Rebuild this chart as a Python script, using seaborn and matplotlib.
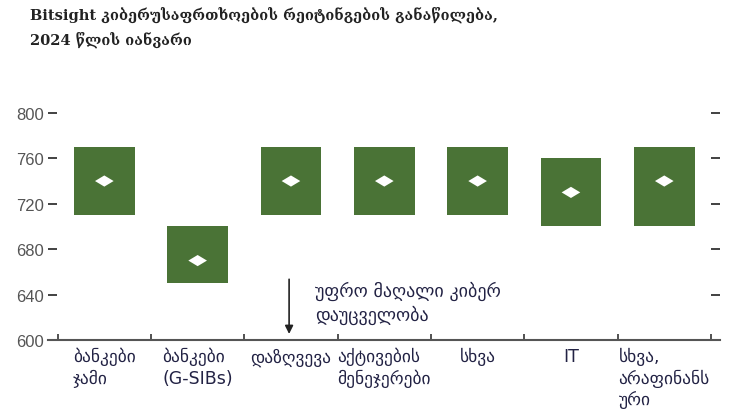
import numpy as np
import matplotlib
matplotlib.use("Agg")
import matplotlib.pyplot as plt
from matplotlib.path import Path
import seaborn as sns

# Data
categories = [
    "ბანკები\nჯამი",
    "ბანკები\n(G-SIBs)",
    "დაზღვევა",
    "აქტივების\nმენეჯერები",
    "სხვა",
    "IT",
    "სხვა,\nარაფინანს\nური",
]
range_low = [710, 650, 710, 710, 710, 700, 700]
range_high = [770, 700, 770, 770, 770, 760, 770]
median_vals = [740, 670, 740, 740, 740, 730, 740]
y_ticks = [600, 640, 680, 720, 760, 800]

title = "Bitsight კიბერუსაფრთხოების რეიტინგების განაწილება,\n2024 წლის იანვარი"
note = "უფრო მაღალი კიბერ\nდაუცველობა"

c_green = "#4a7336"
c_axis = "#555555"

sns.set_theme(style="white")
plt.rcParams["font.family"] = ["Liberation Sans", "DejaVu Sans"]

fig = plt.figure(figsize=(7.55, 4.14), dpi=100)
ax = fig.add_axes([0.064, 0.176, 0.89, 0.549])

heights = np.array(range_high) - np.array(range_low)
sns.barplot(x=list(range(len(categories))), y=heights, bottom=range_low,
            color=c_green, saturation=1, width=0.65, linewidth=0,
            ax=ax, native_scale=True)

diamond = Path([(-1, 0), (0, 0.6), (1, 0), (0, -0.6), (-1, 0)],
               [Path.MOVETO, Path.LINETO, Path.LINETO, Path.LINETO, Path.CLOSEPOLY])
sns.scatterplot(x=list(range(len(categories))), y=median_vals, marker=diamond,
                s=180, color="white", edgecolor="none", ax=ax, zorder=3)

ax.set_xlim(-0.6, 6.6)
ax.set_ylim(600, 800)
ax.set_yticks(y_ticks)
ax.set_yticklabels([str(t) for t in y_ticks])
ax.tick_params(axis="y", which="major", direction="in", length=6.5, width=1.3,
               color="#333333", labelcolor="#555555", labelsize=12,
               left=True, right=True, pad=3)

ax.set_xticks(range(len(categories)))
ax.set_xticklabels(categories, fontsize=12.5, color="#222244",
                   family=["DejaVu Sans"], linespacing=1.25)
for lbl in ax.get_xticklabels():
    lbl.set_multialignment("left")
ax.set_xticks(np.arange(-0.5, 7, 1), minor=True)
ax.tick_params(axis="x", which="major", length=0, pad=5)
ax.tick_params(axis="x", which="minor", direction="in", length=4, width=1.2,
               color="#333333", bottom=True)

for side in ["left", "right", "top"]:
    ax.spines[side].set_visible(False)
ax.spines["bottom"].set_color(c_axis)
ax.spines["bottom"].set_linewidth(1.5)
ax.set_xlabel("")
ax.set_ylabel("")
ax.grid(False)

# Arrow annotation
ax.annotate("", xy=(1.98, 603), xytext=(1.98, 656),
            arrowprops=dict(arrowstyle="-|>", color="#222222", lw=1.2,
                            mutation_scale=12))
ax.text(2.26, 652, note, fontsize=13, color="#222244", va="top", ha="left",
        family=["DejaVu Sans"], linespacing=1.3)

fig.text(0.04, 0.985, title, fontsize=10.5, fontweight="bold", color="#222222",
         va="top", ha="left", family=["DejaVu Serif", "DejaVu Sans"], linespacing=1.7)

fig.savefig("out.png", dpi=100)
